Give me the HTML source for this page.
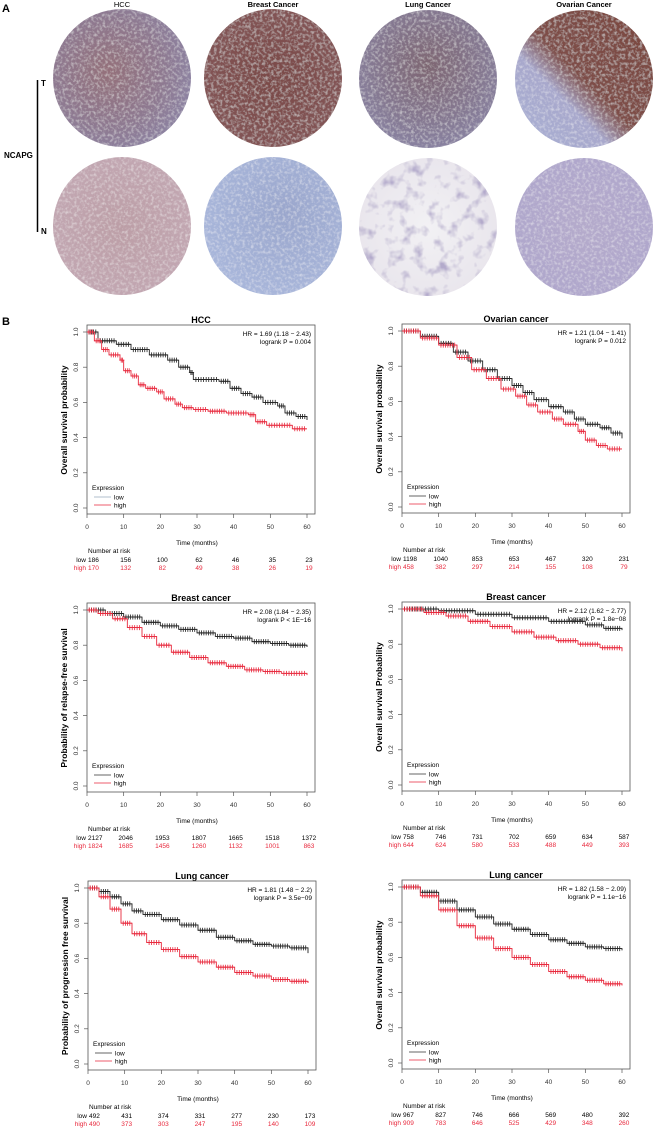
<!DOCTYPE html>
<html><head><meta charset="utf-8">
<style>
html,body{margin:0;padding:0;background:#fff;}
svg{display:block;font-family:"Liberation Sans",Arial,sans-serif;}
</style></head>
<body>
<svg id="fig" width="654" height="1128" viewBox="0 0 654 1128" xmlns="http://www.w3.org/2000/svg">
<defs>
<filter id="tex" x="0" y="0" width="100%" height="100%">
<feTurbulence type="fractalNoise" baseFrequency="0.35" numOctaves="2" seed="3" result="n"/>
<feColorMatrix in="n" type="matrix" values="0 0 0 0 1  0 0 0 0 1  0 0 0 0 1  0 0 0 0.9 -0.4" result="w"/>
<feComposite in="w" in2="SourceGraphic" operator="in" result="wc"/>
<feMerge><feMergeNode in="SourceGraphic"/><feMergeNode in="wc"/></feMerge>
</filter>
<filter id="tex2" x="0" y="0" width="100%" height="100%">
<feTurbulence type="fractalNoise" baseFrequency="0.08" numOctaves="3" seed="7" result="n"/>
<feColorMatrix in="n" type="matrix" values="0 0 0 0 0.45  0 0 0 0 0.4  0 0 0 0 0.6  0 0 0 -3 1.45" result="w"/>
<feComposite in="w" in2="SourceGraphic" operator="in" result="wc"/>
<feMerge><feMergeNode in="SourceGraphic"/><feMergeNode in="wc"/></feMerge>
</filter>
<radialGradient id="g-hcc-t" cx="0.4" cy="0.45" r="0.7"><stop offset="0" stop-color="#94707a"/><stop offset="0.6" stop-color="#8e7a92"/><stop offset="1" stop-color="#8c86a8"/></radialGradient>
<radialGradient id="g-br-t" cx="0.5" cy="0.5" r="0.7"><stop offset="0" stop-color="#7a4a48"/><stop offset="1" stop-color="#86585a"/></radialGradient>
<radialGradient id="g-lu-t" cx="0.5" cy="0.4" r="0.7"><stop offset="0" stop-color="#7e6672"/><stop offset="1" stop-color="#8a86a8"/></radialGradient>
<linearGradient id="g-ov-t" x1="0" y1="1" x2="1" y2="0"><stop offset="0" stop-color="#a8b0d4"/><stop offset="0.35" stop-color="#a8a8cc"/><stop offset="0.5" stop-color="#7e4e48"/><stop offset="1" stop-color="#7a4840"/></linearGradient>
<radialGradient id="g-hcc-n" cx="0.5" cy="0.5" r="0.7"><stop offset="0" stop-color="#bc9ea6"/><stop offset="1" stop-color="#c4aab6"/></radialGradient>
<radialGradient id="g-br-n" cx="0.6" cy="0.4" r="0.7"><stop offset="0" stop-color="#9aa6cc"/><stop offset="1" stop-color="#aab8dc"/></radialGradient>
<radialGradient id="g-lu-n" cx="0.5" cy="0.5" r="0.7"><stop offset="0" stop-color="#f2f1f4"/><stop offset="1" stop-color="#e6e2ea"/></radialGradient>
<radialGradient id="g-ov-n" cx="0.5" cy="0.5" r="0.7"><stop offset="0" stop-color="#b4aacb"/><stop offset="1" stop-color="#aea6cc"/></radialGradient>
</defs>
<g>
<text x="2" y="12" font-size="11" font-weight="bold">A</text>
<text x="122" y="7" font-size="7.5" text-anchor="middle">HCC</text>
<text x="273" y="7" font-size="7.5" font-weight="bold" text-anchor="middle">Breast Cancer</text>
<text x="428" y="7" font-size="7.5" font-weight="bold" text-anchor="middle">Lung Cancer</text>
<text x="584" y="7" font-size="7.5" font-weight="bold" text-anchor="middle">Ovarian Cancer</text>
<line x1="37.5" y1="80" x2="37.5" y2="232" stroke="#000" stroke-width="1.5"/>
<text x="41" y="86" font-size="8" font-weight="bold">T</text>
<text x="41" y="234" font-size="8" font-weight="bold">N</text>
<text x="4" y="158" font-size="8" font-weight="bold">NCAPG</text>
<circle cx="122" cy="78" r="69" fill="url(#g-hcc-t)" filter="url(#tex)"/>
<circle cx="273" cy="78" r="69" fill="url(#g-br-t)" filter="url(#tex)"/>
<circle cx="428" cy="79" r="69" fill="url(#g-lu-t)" filter="url(#tex)"/>
<circle cx="584" cy="79" r="69" fill="url(#g-ov-t)" filter="url(#tex)"/>
<circle cx="122" cy="226" r="69" fill="url(#g-hcc-n)" filter="url(#tex)"/>
<circle cx="273" cy="226" r="69" fill="url(#g-br-n)" filter="url(#tex)"/>
<circle cx="428" cy="227" r="69" fill="url(#g-lu-n)" filter="url(#tex2)"/>
<circle cx="584" cy="227" r="69" fill="url(#g-ov-n)" filter="url(#tex)"/>
</g>
<text x="2" y="325" font-size="11" font-weight="bold">B</text>
<g id="plots"></g>
</svg>
<script>
// ---- data ----
const xTicks = [0,10,20,30,40,50,60];
const yTicks = [0,0.2,0.4,0.6,0.8,1.0];
const yTickLabels = ["0.0","0.2","0.4","0.6","0.8","1.0"];

const hccTimesLow = [0,3,8,12,17,22,25,28,29,36,39,42,45,48,52,54,57,60];
const hccSurvLow  = [1,0.95,0.93,0.90,0.87,0.84,0.80,0.77,0.73,0.72,0.68,0.65,0.63,0.60,0.58,0.54,0.52,0.50];
const hccTimesHigh = [0,2,4,6,9,10,12,14,16,19,21,24,26,29,33,38,44,46,49,56,60];
const hccSurvHigh  = [1,0.95,0.90,0.87,0.84,0.78,0.75,0.70,0.68,0.66,0.62,0.59,0.57,0.56,0.55,0.54,0.53,0.49,0.47,0.45,0.45];
const hccRiskLow = ["186","156","100","62","46","35","23"];
const hccRiskHigh = ["170","132","82","49","38","26","19"];

const ovTimesLow = [0,5,10,14,18,22,26,30,33,36,40,44,47,50,54,57,60];
const ovSurvLow  = [1,0.97,0.93,0.88,0.83,0.78,0.73,0.69,0.65,0.61,0.57,0.54,0.50,0.47,0.45,0.42,0.39];
const ovTimesHigh = [0,5,10,15,19,23,27,31,34,37,41,44,48,50,53,56,60];
const ovSurvHigh  = [1,0.96,0.92,0.85,0.78,0.73,0.67,0.63,0.58,0.54,0.50,0.47,0.43,0.38,0.35,0.33,0.33];
const ovRiskLow = ["1198","1040","853","653","467","320","231"];
const ovRiskHigh = ["458","382","297","214","155","108","79"];

const brRfsTimesLow = [0,5,10,15,20,25,30,35,40,45,50,55,60];
const brRfsSurvLow  = [1,0.98,0.96,0.93,0.91,0.89,0.87,0.85,0.84,0.82,0.81,0.80,0.79];
const brRfsTimesHigh = [0,3,7,11,15,19,23,28,33,38,43,48,53,60];
const brRfsSurvHigh  = [1,0.98,0.95,0.90,0.85,0.80,0.76,0.73,0.70,0.68,0.66,0.65,0.64,0.63];
const brRfsRiskLow = ["2127","2046","1953","1807","1665","1518","1372"];
const brRfsRiskHigh = ["1824","1685","1456","1260","1132","1001","863"];

const brOsTimesLow = [0,10,20,30,40,50,55,60];
const brOsSurvLow  = [1,0.99,0.97,0.95,0.93,0.91,0.89,0.88];
const brOsTimesHigh = [0,6,12,18,24,30,36,42,48,54,60];
const brOsSurvHigh  = [1,0.98,0.96,0.93,0.90,0.87,0.84,0.82,0.80,0.78,0.76];
const brOsRiskLow = ["758","746","731","702","659","634","587"];
const brOsRiskHigh = ["644","624","580","533","488","449","393"];

const luPfsTimesLow = [0,3,6,9,12,15,20,25,30,35,40,45,50,55,60];
const luPfsSurvLow  = [1,0.98,0.95,0.91,0.87,0.85,0.82,0.79,0.76,0.72,0.70,0.68,0.67,0.66,0.63];
const luPfsTimesHigh = [0,3,6,9,12,16,20,25,30,35,40,45,50,55,60];
const luPfsSurvHigh  = [1,0.95,0.88,0.80,0.74,0.69,0.65,0.61,0.58,0.55,0.52,0.50,0.48,0.47,0.46];
const luPfsRiskLow = ["492","431","374","331","277","230","173"];
const luPfsRiskHigh = ["490","373","303","247","195","140","109"];

const luOsTimesLow = [0,5,10,15,20,25,30,35,40,45,50,55,60];
const luOsSurvLow  = [1,0.97,0.92,0.87,0.83,0.79,0.76,0.73,0.70,0.68,0.66,0.65,0.64];
const luOsTimesHigh = [0,5,10,15,20,25,30,35,40,45,50,55,60];
const luOsSurvHigh  = [1,0.95,0.87,0.78,0.71,0.65,0.60,0.56,0.52,0.49,0.47,0.45,0.44];
const luOsRiskLow = ["967","827","746","666","569","480","392"];
const luOsRiskHigh = ["909","783","646","525","429","348","260"];

const RED = "#e8283c";
const NS = "http://www.w3.org/2000/svg";
const root = document.getElementById('plots');
function mk(tag, attrs, parent, txt){
  const e = document.createElementNS(NS, tag);
  for (const k in attrs) e.setAttribute(k, attrs[k]);
  if (txt !== undefined) e.textContent = txt;
  parent.appendChild(e);
  return e;
}

function plot(cfg){
  const x0 = cfg.x0, x60 = cfg.x0 + 220, y1 = cfg.y1, y0 = cfg.y1 + 176;
  const sx = t => x0 + (t/60)*(x60-x0);
  const sy = v => y0 - v*(y0-y1);
  const g = mk('g', {}, root);
  
  
  const t = mk('text', {x:(x0+x60+8)/2, y:y1-9, 'font-size':9, 'font-weight':'bold', 'text-anchor':'middle'}, g, cfg.title);
  
  
  const box = mk('rect', {x:x0, y:y1-7, width:(x60+8)-x0, height:(y0+6)-(y1-7), fill:'none', stroke:'#555', 'stroke-width':0.8}, g);
  
  
  yTicks.forEach((v,i)=>{
    mk('line', {x1:x0-4, x2:x0, y1:sy(v), y2:sy(v), stroke:'#555', 'stroke-width':0.7}, g);
    const lb = mk('text', {x:x0-9, y:sy(v), 'font-size':6.5, fill:'#333', 'text-anchor':'middle', transform:`rotate(-90 ${x0-9} ${sy(v)})`}, g, yTickLabels[i]);
    
    
  });
  xTicks.forEach(v=>{
    mk('line', {x1:sx(v), x2:sx(v), y1:y0+6, y2:y0+10, stroke:'#555', 'stroke-width':0.7}, g);
    const lb = mk('text', {x:sx(v), y:y0+21, 'font-size':6.5, fill:'#333', 'text-anchor':'middle'}, g, String(v));
    
    
  });
  const yl = mk('text', {x:x0-20, y:(y0+y1)/2, 'font-size':8.5, 'font-weight':'bold', 'text-anchor':'middle', transform:`rotate(-90 ${x0-20} ${(y0+y1)/2})`}, g, cfg.ylab);
  
  
  const xl = mk('text', {x:(x0+x60)/2, y:y0+37, 'font-size':6.5, 'text-anchor':'middle'}, g, 'Time (months)');
  
  
  const hr = mk('text', {x:x60+4, y:y1+4, 'font-size':6.5, 'text-anchor':'end'}, g, cfg.hr);
  
  
  const lr = mk('text', {x:x60+4, y:y1+12, 'font-size':6.5, 'text-anchor':'end'}, g, cfg.p);
  
  
  // curves
  [[cfg.tl, cfg.sl, '#222', 'low'], [cfg.th, cfg.sh, RED, 'high']].forEach(([ts, ss, col, nm])=>{
    let d = `M${sx(ts[0])},${sy(ss[0])}`;
    for (let i=1;i<ts.length;i++){ d += `H${sx(ts[i])}V${sy(ss[i])}`; }
    const p = mk('path', {d:d, fill:'none', stroke:col, 'stroke-width':0.9}, g);
    
    
    for (let i=1;i<ts.length;i++){
      const a = ts[i-1], b = ts[i];
      const n = Math.max(2, Math.round((b-a)*1.3));
      for (let k=1;k<=n;k++){
        const tx = sx(a + (b-a)*k/(n+1)), ty = sy(ss[i-1]);
        const c = mk('path', {d:`M${tx-2},${ty}H${tx+2}M${tx},${ty-2.5}V${ty+2.5}`, stroke:col, 'stroke-width':0.8}, g);
        
        
      }
    }
  });
  // legend
  const lg = mk('g', {}, g);
  
  
  mk('text', {x:x0+5, y:y0-18, 'font-size':6.5}, lg, 'Expression');
  mk('line', {x1:x0+7, x2:x0+24, y1:y0-11, y2:y0-11, stroke:cfg.lowLegendCol||'#333', 'stroke-width':0.8}, lg);
  mk('text', {x:x0+27, y:y0-8.5, 'font-size':6.5}, lg, 'low');
  mk('line', {x1:x0+7, x2:x0+24, y1:y0-3, y2:y0-3, stroke:RED, 'stroke-width':0.8}, lg);
  mk('text', {x:x0+27, y:y0-0.5, 'font-size':6.5}, lg, 'high');
  // risk table
  const rt = mk('g', {}, g);
  
  
  mk('text', {x:x0+1, y:y0+45, 'font-size':6.5}, rt, 'Number at risk');
  mk('text', {x:x0-1, y:y0+54, 'font-size':6.5, 'text-anchor':'end'}, rt, 'low');
  mk('text', {x:x0-1, y:y0+62, 'font-size':6.5, 'text-anchor':'end', fill:RED}, rt, 'high');
  xTicks.forEach((v,i)=>{
    const xx = i===0 ? x0+1 : sx(v)+2;
    const anc = i===0 ? 'start' : 'middle';
    mk('text', {x:xx, y:y0+54, 'font-size':6.5, 'text-anchor':anc}, rt, cfg.rl[i]);
    mk('text', {x:xx, y:y0+62, 'font-size':6.5, 'text-anchor':anc, fill:RED}, rt, cfg.rh[i]);
  });
}

plot({name:'km-hcc', x0:87, y1:332, title:'HCC', ylab:'Overall survival probability', hr:'HR = 1.69 (1.18 \u2212 2.43)', p:'logrank P = 0.004',
  tl:hccTimesLow, sl:hccSurvLow, th:hccTimesHigh, sh:hccSurvHigh, rl:hccRiskLow, rh:hccRiskHigh, lowLegendCol:'#9ab'});
plot({name:'km-ovarian', x0:402, y1:331, title:'Ovarian cancer', ylab:'Overall survival probability', hr:'HR = 1.21 (1.04 \u2212 1.41)', p:'logrank P = 0.012',
  tl:ovTimesLow, sl:ovSurvLow, th:ovTimesHigh, sh:ovSurvHigh, rl:ovRiskLow, rh:ovRiskHigh});
plot({name:'km-breast-rfs', x0:87, y1:610, title:'Breast cancer', ylab:'Probability of relapse-free survival', hr:'HR = 2.08 (1.84 \u2212 2.35)', p:'logrank P < 1E\u221216',
  tl:brRfsTimesLow, sl:brRfsSurvLow, th:brRfsTimesHigh, sh:brRfsSurvHigh, rl:brRfsRiskLow, rh:brRfsRiskHigh});
plot({name:'km-breast-os', x0:402, y1:609, title:'Breast cancer', ylab:'Overall survival Probability', hr:'HR = 2.12 (1.62 \u2212 2.77)', p:'logrank P = 1.8e\u221208',
  tl:brOsTimesLow, sl:brOsSurvLow, th:brOsTimesHigh, sh:brOsSurvHigh, rl:brOsRiskLow, rh:brOsRiskHigh});
plot({name:'km-lung-pfs', x0:88, y1:888, title:'Lung cancer', ylab:'Probability of progression free survival', hr:'HR = 1.81 (1.48 \u2212 2.2)', p:'logrank P = 3.5e\u221209',
  tl:luPfsTimesLow, sl:luPfsSurvLow, th:luPfsTimesHigh, sh:luPfsSurvHigh, rl:luPfsRiskLow, rh:luPfsRiskHigh});
plot({name:'km-lung-os', x0:402, y1:887, title:'Lung cancer', ylab:'Overall survival probability', hr:'HR = 1.82 (1.58 \u2212 2.09)', p:'logrank P = 1.1e\u221216',
  tl:luOsTimesLow, sl:luOsSurvLow, th:luOsTimesHigh, sh:luOsSurvHigh, rl:luOsRiskLow, rh:luOsRiskHigh});
</script>
</body></html>
